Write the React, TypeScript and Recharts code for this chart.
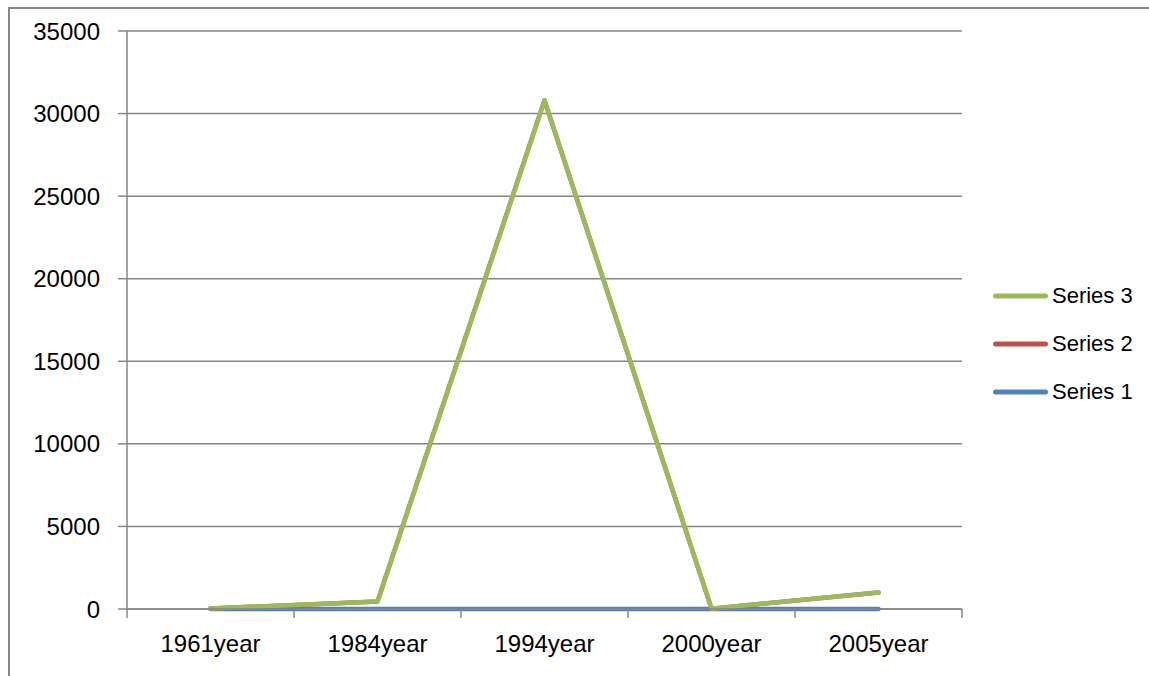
import { LineChart, Line, XAxis, YAxis, CartesianGrid, Legend } from "recharts";

// ---------------------------------------------------
// DATA
// ---------------------------------------------------
const years = ["1961year", "1984year", "1994year", "2000year", "2005year"];
const series1 = [0, 0, 0, 0, 0];
const series2 = [30, 450, 30800, 20, 1000];
const series3 = [30, 450, 30800, 20, 1000];
const yTicks = [0, 5000, 10000, 15000, 20000, 25000, 30000, 35000];

const data = years.map((year, i) => ({
  year,
  s1: series1[i],
  s2: series2[i],
  s3: series3[i],
}));

const GRID = "#868686";
const FONT = "'Liberation Sans', Arial, sans-serif";
const HALF_BAND = 83.5;

// ---------------------------------------------------
// X TICK: label at the category centre, tick marks between categories
// ---------------------------------------------------
function YearTick({ x, y, payload, index }: any) {
  return (
    <g>
      <line x1={x - HALF_BAND} x2={x - HALF_BAND} y1={y} y2={y + 9} stroke={GRID} strokeWidth={1.5} />
      {index === years.length - 1 && (
        <line x1={x + HALF_BAND} x2={x + HALF_BAND} y1={y} y2={y + 9} stroke={GRID} strokeWidth={1.5} />
      )}
      <text x={x} y={y + 43} textAnchor="middle" fill="#000" fontSize={24} fontFamily={FONT}>
        {payload.value}
      </text>
    </g>
  );
}

// ---------------------------------------------------
// LEGEND (reversed order, like the original)
// ---------------------------------------------------
function SeriesLegend({ payload }: any) {
  const items = [...(payload || [])].reverse();
  return (
    <div>
      {items.map((item: any) => (
        <div key={item.value} style={{ display: "flex", alignItems: "center", height: 48 }}>
          <svg width={60} height={10}>
            <line x1={5.5} x2={55.5} y1={5} y2={5} stroke={item.color} strokeWidth={5} strokeLinecap="round" />
          </svg>
          <span style={{ marginLeft: 2, fontSize: 22, fontFamily: FONT, color: "#000" }}>{item.value}</span>
        </div>
      ))}
    </div>
  );
}

// ---------------------------------------------------
// MAIN COMPONENT
// ---------------------------------------------------
export default function App() {
  return (
    <div style={{ position: "absolute", left: 0, top: 0, width: 1149, height: 676, background: "#fff" }}>
      {/* outer chart frame (right/bottom edges are cut off) */}
      <div
        style={{
          position: "absolute",
          left: 8,
          top: 7,
          right: -10,
          bottom: -10,
          borderLeft: `2px solid ${GRID}`,
          borderTop: `2px solid ${GRID}`,
        }}
      />
      <LineChart
        width={1149}
        height={676}
        data={data}
        margin={{ top: 31, right: 187, left: 27, bottom: 37 }}
      >
        <CartesianGrid vertical={false} stroke={GRID} strokeWidth={1.5} />
        <XAxis
          dataKey="year"
          height={30}
          padding={{ left: HALF_BAND, right: HALF_BAND }}
          axisLine={{ stroke: GRID, strokeWidth: 1.5 }}
          tickLine={false}
          tickSize={0}
          tickMargin={0}
          tick={<YearTick />}
          interval={0}
        />
        <YAxis
          width={100}
          domain={[0, 35000]}
          ticks={yTicks}
          interval={0}
          axisLine={{ stroke: GRID, strokeWidth: 1.5 }}
          tickLine={{ stroke: GRID, strokeWidth: 1.5 }}
          tickSize={9}
          tickMargin={18}
          tick={{ fill: "#000", fontSize: 24, fontFamily: FONT }}
        />
        <Legend
          layout="vertical"
          align="center"
          verticalAlign="middle"
          wrapperStyle={{ left: 990, top: 272, width: 159 }}
          content={<SeriesLegend />}
        />
        <Line
          dataKey="s1"
          name="Series 1"
          stroke="#4F81BD"
          strokeWidth={4.5}
          strokeLinecap="round"
          strokeLinejoin="round"
          dot={false}
          isAnimationActive={false}
        />
        <Line
          dataKey="s2"
          name="Series 2"
          stroke="#C0504D"
          strokeWidth={4.5}
          strokeLinecap="round"
          strokeLinejoin="round"
          dot={false}
          isAnimationActive={false}
        />
        <Line
          dataKey="s3"
          name="Series 3"
          stroke="#9BBB59"
          strokeWidth={4.5}
          strokeLinecap="round"
          strokeLinejoin="round"
          dot={false}
          isAnimationActive={false}
        />
      </LineChart>
    </div>
  );
}
